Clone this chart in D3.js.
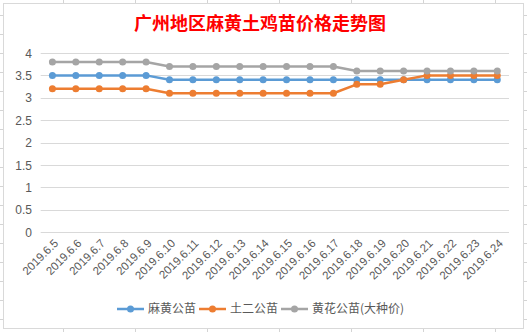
<!DOCTYPE html>
<html><head><meta charset="utf-8">
<script src="https://cdn.jsdelivr.net/npm/d3@7/dist/d3.min.js"></script>
<style>html,body{margin:0;padding:0;background:#fff;}svg{display:block;}</style>
</head><body>
<svg id="c" width="527" height="332"></svg>
<script>
const title = "广州地区麻黄土鸡苗价格走势图";
const categories = ["2019.6.5","2019.6.6","2019.6.7","2019.6.8","2019.6.9","2019.6.10","2019.6.11","2019.6.12","2019.6.13","2019.6.14","2019.6.15","2019.6.16","2019.6.17","2019.6.18","2019.6.19","2019.6.20","2019.6.21","2019.6.22","2019.6.23","2019.6.24"];
const seriesNames = ["麻黄公苗","土二公苗","黄花公苗(大种价)"];
const mahuang = [3.5,3.5,3.5,3.5,3.5,3.4,3.4,3.4,3.4,3.4,3.4,3.4,3.4,3.4,3.4,3.4,3.4,3.4,3.4,3.4];
const tuer =    [3.2,3.2,3.2,3.2,3.2,3.1,3.1,3.1,3.1,3.1,3.1,3.1,3.1,3.3,3.3,3.4,3.5,3.5,3.5,3.5];
const huanghua =[3.8,3.8,3.8,3.8,3.8,3.7,3.7,3.7,3.7,3.7,3.7,3.7,3.7,3.6,3.6,3.6,3.6,3.6,3.6,3.6];
const yTicks = [0,0.5,1,1.5,2,2.5,3,3.5,4];
const colors = ["#5B9BD5","#ED7D31","#A5A5A5"];
const seriesValues = [mahuang, tuer, huanghua];

const svg = d3.select("#c");
const font = "'Noto Sans CJK SC','Liberation Sans',sans-serif";

// spreadsheet grid stubs outside chart border
const sheet = svg.append("g").attr("stroke","#d4d4d4").attr("stroke-width",1);
for (let y = 15; y < 332; y += 19) {
  sheet.append("line").attr("x1",0).attr("x2",3).attr("y1",y+0.5).attr("y2",y+0.5);
  sheet.append("line").attr("x1",524).attr("x2",527).attr("y1",y+0.5).attr("y2",y+0.5);
}
for (let x = 63; x < 527; x += 72) {
  sheet.append("line").attr("y1",0).attr("y2",3).attr("x1",x+0.5).attr("x2",x+0.5);
  sheet.append("line").attr("y1",329).attr("y2",332).attr("x1",x+0.5).attr("x2",x+0.5);
}
// chart border
svg.append("rect").attr("x",3.5).attr("y",3.5).attr("width",520).attr("height",325)
  .attr("fill","#fff").attr("stroke","#d9d9d9");

// title
svg.append("text").attr("x",260).attr("y",30).attr("text-anchor","middle")
  .attr("font-family",font).attr("font-size",18).attr("font-weight","bold")
  .attr("fill","#FF0000").text(title);

const x = d3.scalePoint().domain(categories).range([40.7,509]).padding(0.5);
const y = d3.scaleLinear().domain([0,4]).range([232,53]);

// gridlines
const yAxis = d3.axisLeft(y).tickValues(yTicks).tickSize(0).tickPadding(0)
  .tickFormat(d => String(d));
const ga = svg.append("g").attr("transform","translate(32,0)").call(yAxis);
ga.select(".domain").remove();
ga.selectAll("text").attr("font-family","'Liberation Sans',sans-serif").attr("font-size",12)
  .attr("fill","#595959").attr("x",0).attr("text-anchor","end").attr("dy","0.35em");

svg.append("g").selectAll("line").data(yTicks).join("line")
  .attr("x1",40.7).attr("x2",509)
  .attr("y1",d=>Math.round(y(d))+0.5).attr("y2",d=>Math.round(y(d))+0.5)
  .attr("stroke","#d9d9d9").attr("stroke-width",1);

// x labels
const xAxis = d3.axisBottom(x).tickSize(0).tickPadding(0);
const gx = svg.append("g").attr("transform","translate(0,232)").call(xAxis);
gx.select(".domain").remove();
gx.selectAll("text")
  .attr("font-family","'Liberation Sans',sans-serif").attr("font-size",11.5)
  .attr("fill","#595959").attr("text-anchor","end").attr("dy",0).attr("y",0)
  .attr("transform","translate(6,12) rotate(-45)");

// lines
const line = d3.line().x((d,i)=>x(categories[i])).y(d=>y(d));
seriesValues.forEach((vals,si)=>{
  const g = svg.append("g");
  g.append("path").datum(vals).attr("d",line).attr("fill","none")
    .attr("stroke",colors[si]).attr("stroke-width",2.5).attr("stroke-linejoin","round");
  g.selectAll("circle").data(vals).join("circle")
    .attr("cx",(d,i)=>x(categories[i])).attr("cy",d=>y(d)).attr("r",3.5)
    .attr("fill",colors[si]);
});

// legend
const legendX = [117,199,281];
const lg = svg.append("g");
seriesNames.forEach((n,i)=>{
  const g = lg.append("g").attr("transform",`translate(${legendX[i]},309)`);
  g.append("line").attr("x1",0).attr("x2",27).attr("y1",0).attr("y2",0)
    .attr("stroke",colors[i]).attr("stroke-width",2.5);
  g.append("circle").attr("cx",13.5).attr("cy",0).attr("r",3.5).attr("fill",colors[i]);
  g.append("text").attr("x",31).attr("y",0).attr("dy","0.35em")
    .attr("font-family",font).attr("font-size",12).attr("fill","#595959").text(n);
});
</script>
</body></html>
